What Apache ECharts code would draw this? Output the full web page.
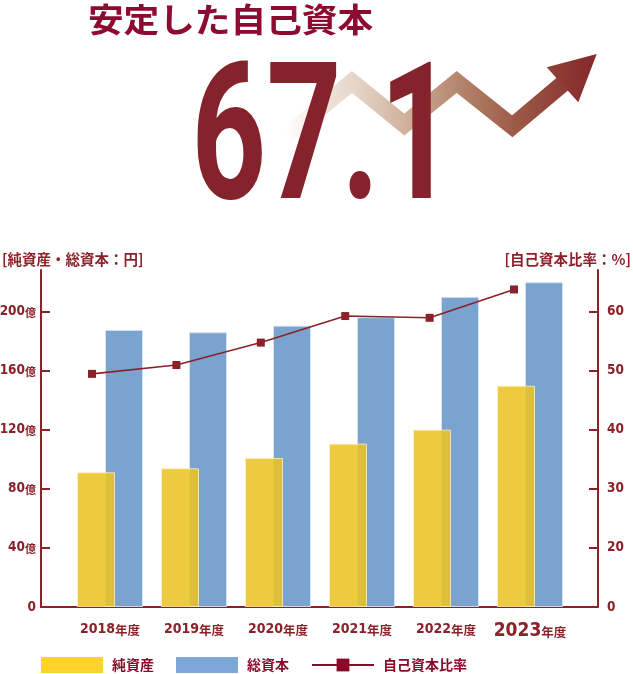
<!DOCTYPE html>
<html><head><meta charset="utf-8">
<script src="https://cdn.jsdelivr.net/npm/echarts@6/dist/echarts.min.js"></script>
<style>html,body{margin:0;padding:0;background:#fff}#c{width:633px;height:674px}</style>
</head><body><div id="c"></div>
<script>
// ---- data ----
const categories = ['2018年度','2019年度','2020年度','2021年度','2022年度','2023年度'];
const netAssets = [91.3, 94.0, 101.0, 110.7, 120.2, 150.0];        // 億円
const totalCapital = [187.8, 186.2, 190.7, 196.4, 210.2, 220.1];   // 億円
const equityRatio = [49.5, 51.0, 54.8, 59.3, 59.0, 63.8];          // %
const leftTicks = [0, 40, 80, 120, 160, 200];
const rightTicks = [10, 20, 30, 40, 50, 60]; // broken axis: bottom tick (10) is labelled 0
const seriesNames = ['純資産', '総資本', '自己資本比率'];
const titleText = '安定した自己資本';
const headline = '67.1';
const leftAxisName = '[純資産・総資本：円]';
const rightAxisName = '[自己資本比率：%]';

// ---- styles ----
const RED = '#8B2229';
const LEG = '#8B0A2A';
const COND = '"Liberation Sans Narrow","DejaVu Sans Condensed","Roboto Condensed",sans-serif';
const CJK = '"Noto Sans CJK JP",sans-serif';

const chart = echarts.init(document.getElementById('c'), null, {renderer: 'canvas'});

const rich = {
  n: {fontFamily: COND, fontWeight: 'bold', fontSize: 13.5, color: RED},
  nx: {fontFamily: COND, fontWeight: 'bold', fontSize: 14, color: RED},
  nb: {fontFamily: COND, fontWeight: 'bold', fontSize: 19, color: RED},
  u: {fontFamily: CJK, fontWeight: 'bold', fontSize: 11, color: RED, padding: [2, 0, 0, 0]},
  uy: {fontFamily: CJK, fontWeight: 'bold', fontSize: 12.5, color: RED, padding: [2, 0, 0, 0]}
};

const option = {
  animation: false,
  grid: [
    {left: 41, right: 35, top: 270, bottom: 67, outerBoundsMode: 'none', containLabel: false},
    {left: 68, right: 61, top: 270, bottom: 67, outerBoundsMode: 'none', containLabel: false}
  ],
  xAxis: [
    {type: 'value', gridIndex: 0, min: -0.6043, max: 5.995, position: 'bottom',
     axisLine: {show: true, onZero: false, lineStyle: {color: RED, width: 2}},
     axisTick: {show: false}, axisLabel: {show: false}, splitLine: {show: false}},
    {type: 'category', gridIndex: 1, data: categories,
     axisLine: {show: false}, axisTick: {show: false},
     axisLabel: {margin: 15, interval: 0, hideOverlap: false, rich: rich,
       formatter: (v, i) => {
         const y = v.replace('年度', '');
         return (i === categories.length - 1 ? '{nb|' + y + '}' : '{nx|' + y + '}') + '{uy|年度}';
       }}}
  ],
  yAxis: [
    {type: 'value', gridIndex: 0, min: 0, max: 228.4, interval: 40, position: 'left',
     axisLine: {show: true, onZero: false, lineStyle: {color: RED, width: 2}},
     axisTick: {show: true, inside: true, length: 9, lineStyle: {color: RED, width: 2}, customValues: leftTicks},
     axisLabel: {margin: 5, customValues: leftTicks, rich: rich,
       formatter: v => v === 0 ? '{n|0}' : '{n|' + v + '}{u|億}'},
     splitLine: {show: false}},
    {type: 'value', gridIndex: 0, min: 10, max: 67.1, interval: 10, position: 'right',
     axisLine: {show: true, onZero: false, lineStyle: {color: RED, width: 2}},
     axisTick: {show: true, inside: true, length: 9, lineStyle: {color: RED, width: 2}, customValues: rightTicks},
     axisLabel: {margin: 9, customValues: rightTicks, rich: rich,
       formatter: v => '{n|' + (v === rightTicks[0] ? 0 : v) + '}'},
     splitLine: {show: false}},
    {type: 'value', gridIndex: 1, min: 0, max: 228.4, show: false}
  ],
  legend: {
    left: 41, top: 657, padding: 0, itemWidth: 62, itemHeight: 16, itemGap: 22, selectedMode: false,
    textStyle: {color: LEG, fontSize: 14, fontFamily: CJK, fontWeight: 'bold', padding: [0, 0, 0, 4]},
    data: [
      {name: seriesNames[0], icon: 'rect', itemStyle: {color: '#FFD22E', borderWidth: 0}},
      {name: seriesNames[1], icon: 'rect', itemStyle: {color: '#7DA6D8', borderWidth: 0}},
      {name: seriesNames[2], itemStyle: {color: LEG}, lineStyle: {color: LEG, width: 2}}
    ]
  },
  series: [
    {name: seriesNames[0], type: 'bar', xAxisIndex: 1, yAxisIndex: 2, data: netAssets,
     barWidth: 38, barGap: '-26.3%', z: 3,
     itemStyle: {color: 'rgba(236,195,38,0.88)', borderColor: 'rgba(255,240,190,0.8)', borderWidth: 1}},
    {name: seriesNames[1], type: 'bar', xAxisIndex: 1, yAxisIndex: 2, data: totalCapital,
     barWidth: 38, barGap: '-26.3%', z: 2,
     itemStyle: {color: '#7AA3CF', borderColor: 'rgba(215,228,243,0.9)', borderWidth: 1}},
    {name: seriesNames[2], type: 'line', xAxisIndex: 0, yAxisIndex: 1,
     data: equityRatio.map((v, i) => [i, v]), symbol: 'rect', symbolSize: 8, z: 5,
     lineStyle: {color: RED, width: 1.6}, itemStyle: {color: RED}}
  ],
  graphic: [
    {type: 'polyline', z: 1,
     shape: {points: [[285, 137], [352, 82], [404.3, 124.5], [456.7, 82], [512.3, 126.3], [566, 81]]},
     style: {fill: null, lineWidth: 17, lineJoin: 'miter', miterLimit: 10,
       stroke: {type: 'linear', x: 285, y: 0, x2: 600, y2: 0, global: true,
         colorStops: [
           {offset: 0, color: 'rgba(240,230,222,0)'},
           {offset: 0.12, color: 'rgba(236,224,214,0.9)'},
           {offset: 0.22, color: '#E6D6C9'},
           {offset: 0.38, color: '#D0B19D'},
           {offset: 0.55, color: '#B5866D'},
           {offset: 0.73, color: '#9C5A47'},
           {offset: 1, color: '#84272B'}
         ]}}},
    {type: 'polygon', z: 1,
     shape: {points: [[546.7, 67.3], [596.7, 54], [578.3, 102.3]]},
     style: {fill: {type: 'linear', x: 546, y: 0, x2: 597, y2: 0, global: true,
       colorStops: [{offset: 0, color: '#914337'}, {offset: 1, color: '#84272B'}]}}},
    {type: 'text', z: 10, x: 323, y: 150, scaleX: 0.686,
     style: {text: headline, fill: '#84232B', font: 'bold 191px Roboto', align: 'center', verticalAlign: 'middle'}},
    {type: 'text', z: 10, x: 230.5, y: 19, scaleX: 1.08,
     style: {text: titleText, fill: '#8D0B30', font: 'bold 33px "Noto Sans CJK JP"', align: 'center', verticalAlign: 'middle'}},
    {type: 'text', z: 10, x: 2, y: 259,
     style: {text: leftAxisName, fill: RED, font: 'bold 14.5px "Noto Sans CJK JP"', align: 'left', verticalAlign: 'middle'}},
    {type: 'text', z: 10, x: 631, y: 259,
     style: {text: rightAxisName, fill: RED, font: 'bold 14.5px "Noto Sans CJK JP"', align: 'right', verticalAlign: 'middle'}}
  ]
};
chart.setOption(option);
</script>
</body></html>
